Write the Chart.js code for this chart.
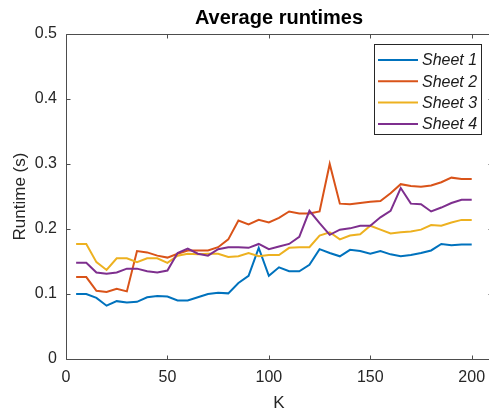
<!DOCTYPE html>
<html>
<head>
<meta charset="utf-8">
<script src="https://cdn.jsdelivr.net/npm/chart.js@4.4.1/dist/chart.umd.min.js"></script>
<style>
html,body{margin:0;padding:0;background:#fff;overflow:hidden;}
#wrap{position:relative;width:496px;height:411px;}
</style>
</head>
<body>
<div id="wrap"><canvas id="c"></canvas></div>
<script>
const kValues = [5,10,15,20,25,30,35,40,45,50,55,60,65,70,75,80,85,90,95,100,105,110,115,120,125,130,135,140,145,150,155,160,165,170,175,180,185,190,195,200];
const sheet1 = [0.100,0.100,0.094,0.082,0.089,0.087,0.088,0.095,0.097,0.096,0.090,0.090,0.095,0.100,0.102,0.101,0.117,0.128,0.171,0.128,0.141,0.135,0.135,0.145,0.169,0.163,0.158,0.168,0.166,0.162,0.166,0.161,0.158,0.160,0.163,0.167,0.177,0.175,0.176,0.176];
const sheet2 = [0.126,0.126,0.105,0.103,0.108,0.104,0.166,0.164,0.159,0.156,0.162,0.167,0.167,0.167,0.172,0.184,0.213,0.207,0.214,0.210,0.217,0.227,0.224,0.224,0.227,0.300,0.239,0.238,0.240,0.242,0.243,0.255,0.269,0.266,0.265,0.267,0.272,0.279,0.277,0.277];
const sheet3 = [0.177,0.177,0.149,0.137,0.155,0.155,0.149,0.155,0.155,0.148,0.159,0.162,0.161,0.162,0.162,0.157,0.158,0.163,0.158,0.160,0.160,0.171,0.172,0.172,0.190,0.195,0.184,0.190,0.192,0.205,0.199,0.193,0.195,0.196,0.199,0.206,0.205,0.210,0.214,0.214];
const sheet4 = [0.148,0.148,0.133,0.131,0.133,0.139,0.139,0.135,0.133,0.136,0.163,0.170,0.162,0.159,0.169,0.172,0.172,0.171,0.177,0.169,0.173,0.177,0.188,0.228,0.209,0.191,0.199,0.201,0.205,0.205,0.218,0.228,0.263,0.239,0.238,0.227,0.233,0.240,0.245,0.245];
const seriesNames = ['Sheet 1','Sheet 2','Sheet 3','Sheet 4'];
const seriesData = [sheet1, sheet2, sheet3, sheet4];
const seriesColors = ['#0072BD','#D95319','#EDB120','#7E2F8E'];
const xTicks = [0,50,100,150,200];
const yTicks = [0,0.1,0.2,0.3,0.4,0.5];

const FONT = "'Liberation Sans', Arial, Helvetica, sans-serif";
const AXIS_COLOR = '#4d4d4d';

const datasets = seriesData.map((arr, i) => ({
  label: seriesNames[i],
  data: kValues.map((k, j) => ({x: k, y: arr[j]})),
  borderColor: seriesColors[i],
  backgroundColor: seriesColors[i],
  borderWidth: 2,
  pointRadius: 0,
  tension: 0,
  fill: false,
  order: seriesNames.length - i
}));

const boxPlugin = {
  id: 'matlabBox',
  afterDraw(chart) {
    const ctx = chart.ctx;
    const a = chart.chartArea;
    const xs = chart.scales.x, ys = chart.scales.y;
    const L = Math.round(a.left) + 0.5, R = Math.round(a.right) + 0.5;
    const T = Math.round(a.top) + 0.5, B = Math.round(a.bottom) + 0.5;
    ctx.save();
    ctx.strokeStyle = AXIS_COLOR;
    ctx.lineWidth = 1;
    ctx.beginPath();
    ctx.rect(L, T, R - L, B - T);
    const tl = 4;
    xTicks.forEach(v => {
      const px = Math.round(xs.getPixelForValue(v)) + 0.5;
      ctx.moveTo(px, B); ctx.lineTo(px, B - tl);
      ctx.moveTo(px, T); ctx.lineTo(px, T + tl);
    });
    yTicks.forEach(v => {
      const py = Math.round(ys.getPixelForValue(v)) + 0.5;
      ctx.moveTo(L, py); ctx.lineTo(L + tl, py);
      ctx.moveTo(R, py); ctx.lineTo(R - tl, py);
    });
    ctx.stroke();

    // legend
    const bx = 374.5, by = 44.5, bw = 107, bh = 90;
    ctx.fillStyle = '#fff';
    ctx.fillRect(bx, by, bw, bh);
    ctx.strokeStyle = '#262626';
    ctx.strokeRect(bx, by, bw, bh);
    ctx.font = 'italic 16px ' + FONT;
    ctx.textBaseline = 'middle';
    ctx.textAlign = 'left';
    chart.data.datasets.forEach((ds, i) => {
      const y = 60 + i * 21.3;
      ctx.strokeStyle = ds.borderColor;
      ctx.lineWidth = 2;
      ctx.beginPath();
      ctx.moveTo(378, y); ctx.lineTo(418, y);
      ctx.stroke();
      ctx.fillStyle = '#1a1a1a';
      ctx.fillText(ds.label, 422, y + 1);
    });
    ctx.restore();
  }
};

new Chart(document.getElementById('c'), {
  type: 'line',
  data: { datasets },
  options: {
    responsive: true,
    maintainAspectRatio: false,
    animation: false,
    layout: { padding: { left: 0, right: 4, top: 0, bottom: 0 } },
    plugins: {
      legend: { display: false },
      tooltip: { enabled: false },
      title: {
        display: true,
        text: 'Average runtimes',
        fullSize: false,
        color: '#000',
        font: { family: FONT, size: 20, weight: 'bold', lineHeight: 1.2 },
        padding: { top: 6, bottom: 4 }
      }
    },
    scales: {
      x: {
        type: 'linear',
        min: 0,
        max: 210,
        grid: { display: false, drawTicks: false },
        border: { display: false },
        afterBuildTicks: (s) => { s.ticks = xTicks.map(v => ({ value: v })); },
        afterFit: (s) => { s.height = 52; },
        ticks: {
          color: '#262626',
          font: { family: FONT, size: 16 },
          padding: 9,
          maxRotation: 0,
          autoSkip: false
        },
        title: {
          display: true,
          text: 'K',
          color: '#262626',
          font: { family: FONT, size: 17, lineHeight: 1 },
          padding: { top: 0, bottom: -1 }
        }
      },
      y: {
        type: 'linear',
        min: 0,
        max: 0.5,
        grid: { display: false, drawTicks: false },
        border: { display: false },
        afterBuildTicks: (s) => { s.ticks = yTicks.map(v => ({ value: v })); },
        afterFit: (s) => { s.width = 66; },
        ticks: {
          color: '#262626',
          font: { family: FONT, size: 16 },
          padding: 9,
          callback: (v) => String(v)
        },
        title: {
          display: true,
          text: 'Runtime (s)',
          color: '#262626',
          font: { family: FONT, size: 17, lineHeight: 1 },
          padding: { top: 12, bottom: 0 }
        }
      }
    }
  },
  plugins: [boxPlugin]
});
</script>
</body>
</html>
